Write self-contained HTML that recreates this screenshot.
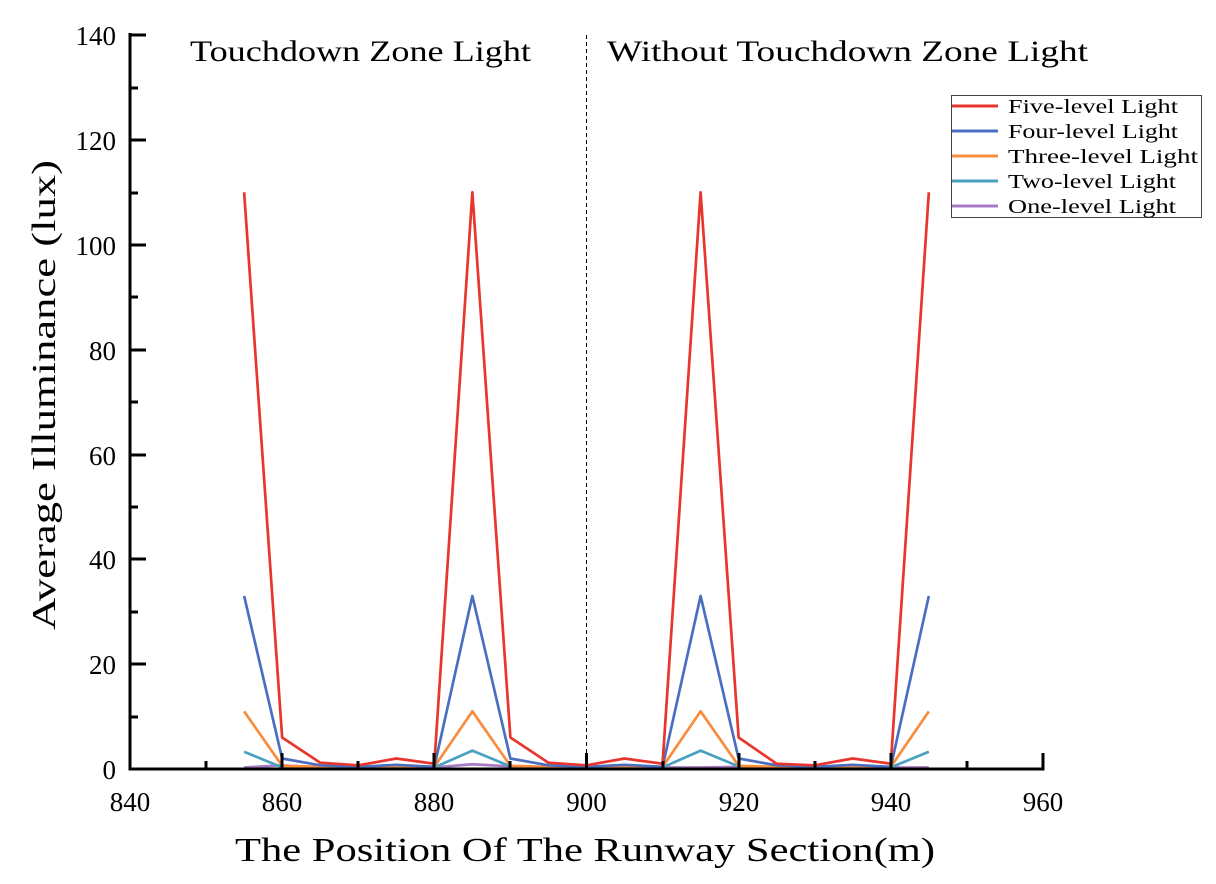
<!DOCTYPE html>
<html><head><meta charset="utf-8"><style>
body{margin:0;background:#fff}
text{font-family:"Liberation Serif","DejaVu Serif",serif;fill:#000}
</style></head><body>
<svg width="1216" height="879" viewBox="0 0 1216 879" xmlns="http://www.w3.org/2000/svg">
<rect width="1216" height="879" fill="#fff"/>
<line x1="586.5" y1="35" x2="586.5" y2="769" stroke="#000" stroke-width="1" stroke-dasharray="4,3"/>
<g transform="matrix(7.608 0 0 -5.243 -6260.72 769)" fill="none" stroke-width="2.7" stroke-linejoin="round">
<polyline vector-effect="non-scaling-stroke" stroke="#a77bc4" points="855,0.3 860,0.7 865,0.3 870,0.2 875,0.5 880,0.3 885,0.9 890,0.5 895,0.3 900,0.2 905,0.5 910,0.3 915,0.3 920,0.4 925,0.3 930,0.2 935,0.4 940,0.3 945,0.3"/>
<polyline vector-effect="non-scaling-stroke" stroke="#4aa0c0" points="855,3.3 860,0.3 865,0.3 870,0.2 875,0.5 880,0.3 885,3.5 890,0.5 895,0.3 900,0.2 905,0.5 910,0.3 915,3.5 920,0.5 925,0.3 930,0.2 935,0.5 940,0.3 945,3.3"/>
<polyline vector-effect="non-scaling-stroke" stroke="#f98d3d" points="855,11 860,0.6 865,0.4 870,0.3 875,0.6 880,0.4 885,11 890,0.6 895,0.4 900,0.3 905,0.6 910,0.4 915,11 920,0.6 925,0.4 930,0.3 935,0.6 940,0.4 945,11"/>
<polyline vector-effect="non-scaling-stroke" stroke="#4a6fc0" points="855,33 860,2 865,0.7 870,0.4 875,0.8 880,0.4 885,33 890,2 895,0.7 900,0.4 905,0.8 910,0.4 915,33 920,2 925,0.7 930,0.4 935,0.8 940,0.4 945,33"/>
<polyline vector-effect="non-scaling-stroke" stroke="#e8362e" points="855,110 860,6 865,1.2 870,0.7 875,2 880,1 885,110 890,6 895,1.2 900,0.7 905,2 910,1 915,110 920,6 925,1 930,0.7 935,2 940,1 945,110"/>
</g>
<g stroke="#000">
<line x1="130" y1="33" x2="130" y2="770.5" stroke-width="3"/>
<line x1="128.5" y1="769" x2="1044.5" y2="769" stroke-width="3"/>
<line x1="1043" y1="769" x2="1043" y2="753" stroke-width="3"/>
<g stroke-width="3">
<line x1="130" y1="35" x2="146" y2="35"/><line x1="130" y1="140" x2="146" y2="140"/><line x1="130" y1="245" x2="146" y2="245"/><line x1="130" y1="350" x2="146" y2="350"/><line x1="130" y1="455" x2="146" y2="455"/><line x1="130" y1="559" x2="146" y2="559"/><line x1="130" y1="664" x2="146" y2="664"/>
<line x1="130" y1="88" x2="138" y2="88"/><line x1="130" y1="193" x2="138" y2="193"/><line x1="130" y1="297" x2="138" y2="297"/><line x1="130" y1="402" x2="138" y2="402"/><line x1="130" y1="507" x2="138" y2="507"/><line x1="130" y1="612" x2="138" y2="612"/><line x1="130" y1="717" x2="138" y2="717"/>
<line x1="282" y1="769" x2="282" y2="753"/><line x1="434" y1="769" x2="434" y2="753"/><line x1="586.5" y1="769" x2="586.5" y2="753"/><line x1="739" y1="769" x2="739" y2="753"/><line x1="891" y1="769" x2="891" y2="753"/>
<line x1="206" y1="769" x2="206" y2="761"/><line x1="358" y1="769" x2="358" y2="761"/><line x1="510" y1="769" x2="510" y2="761"/><line x1="663" y1="769" x2="663" y2="761"/><line x1="815" y1="769" x2="815" y2="761"/><line x1="967" y1="769" x2="967" y2="761"/>
</g></g>
<g font-size="27" text-anchor="end">
<text x="116" y="45">140</text><text x="116" y="150">120</text><text x="116" y="255">100</text><text x="116" y="360">80</text><text x="116" y="465">60</text><text x="116" y="569">40</text><text x="116" y="674">20</text><text x="116" y="779">0</text>
</g>
<g font-size="27" text-anchor="middle">
<text x="130" y="811">840</text><text x="282" y="811">860</text><text x="434" y="811">880</text><text x="586.5" y="811">900</text><text x="739" y="811">920</text><text x="891" y="811">940</text><text x="1043" y="811">960</text>
</g>
<text x="585" y="861" font-size="34" text-anchor="middle" textLength="700" lengthAdjust="spacingAndGlyphs">The Position Of The Runway Section(m)</text>
<text transform="translate(55,395) rotate(-90)" font-size="34" text-anchor="middle" textLength="470" lengthAdjust="spacingAndGlyphs">Average Illuminance (lux)</text>
<text x="190" y="61" font-size="30" textLength="341" lengthAdjust="spacingAndGlyphs">Touchdown Zone Light</text>
<text x="607" y="61" font-size="30" textLength="481" lengthAdjust="spacingAndGlyphs">Without Touchdown Zone Light</text>
<rect x="951.5" y="95.5" width="250" height="122" fill="#fff" stroke="#444" stroke-width="1"/>
<g stroke-width="3">
<line x1="952" y1="106" x2="998" y2="106" stroke="#e8362e"/>
<line x1="952" y1="131" x2="998" y2="131" stroke="#4a6fc0"/>
<line x1="952" y1="156" x2="998" y2="156" stroke="#f98d3d"/>
<line x1="952" y1="181" x2="998" y2="181" stroke="#4aa0c0"/>
<line x1="952" y1="206" x2="998" y2="206" stroke="#a77bc4"/>
</g>
<g font-size="20">
<text x="1008" y="113" textLength="170" lengthAdjust="spacingAndGlyphs">Five-level Light</text>
<text x="1008" y="138" textLength="170" lengthAdjust="spacingAndGlyphs">Four-level Light</text>
<text x="1008" y="163" textLength="190" lengthAdjust="spacingAndGlyphs">Three-level Light</text>
<text x="1008" y="188" textLength="168" lengthAdjust="spacingAndGlyphs">Two-level Light</text>
<text x="1008" y="213" textLength="168" lengthAdjust="spacingAndGlyphs">One-level Light</text>
</g>
</svg>
</body></html>
